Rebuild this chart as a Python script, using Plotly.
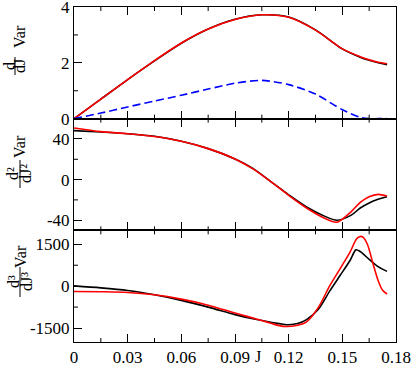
import plotly.graph_objects as go
from plotly.subplots import make_subplots

# panel 1: first derivative
J1 = [0, 0.015, 0.03, 0.045, 0.06, 0.075, 0.09, 0.105, 0.12, 0.135, 0.15, 0.16, 0.165, 0.17, 0.175]
d1_black = [0, 0.70, 1.40, 2.07, 2.70, 3.21, 3.56, 3.72, 3.64, 3.18, 2.50, 2.20, 2.09, 2.00, 1.93]
d1_red = [0, 0.70, 1.40, 2.08, 2.71, 3.21, 3.55, 3.72, 3.63, 3.17, 2.50, 2.22, 2.11, 2.02, 1.97]
d1_blue = [0, 0.20, 0.42, 0.63, 0.84, 1.06, 1.27, 1.37, 1.22, 0.88, 0.32, 0.05, 0.0, 0.0, 0.0]

# panel 2: second derivative
J2 = [0, 0.015, 0.03, 0.045, 0.06, 0.075, 0.09, 0.1, 0.11, 0.12, 0.13, 0.14, 0.147,
      0.155, 0.16, 0.165, 0.17, 0.175]
d2_black = [48.2, 46.9, 45.2, 42.6, 37.7, 30.5, 20.3, 11, -2, -15, -27, -36, -40,
            -35, -28, -23, -19.5, -17]
d2_red = [50.8, 47.2, 45.2, 42.4, 37.7, 30.5, 20.3, 10.5, -2, -15.5, -28, -38, -42,
          -31.5, -22.5, -17, -14.6, -16.2]

# panel 3: third derivative
J3b = [0, 0.015, 0.03, 0.045, 0.06, 0.075, 0.09, 0.1, 0.11, 0.12, 0.125, 0.13, 0.1366,
       0.143, 0.1487, 0.1543, 0.1576, 0.16, 0.165, 0.17, 0.175]
d3_black = [10, -60, -155, -310, -510, -750, -1020, -1170, -1290, -1380, -1340, -1200, -830,
            -170, 380, 920, 1300, 1240, 960, 700, 530]
J3r = [0, 0.015, 0.03, 0.045, 0.06, 0.075, 0.09, 0.1, 0.11, 0.117, 0.125, 0.13, 0.1366,
       0.143, 0.1487, 0.1543, 0.158, 0.16, 0.1615, 0.164, 0.1673, 0.17, 0.1725, 0.175]
d3_red = [-190, -200, -225, -310, -465, -680, -965, -1140, -1330, -1440, -1400, -1280, -760,
          20, 620, 1220, 1700, 1780, 1760, 1500, 770, 200, -150, -280]

x_ticks = [0, 0.03, 0.06, 0.09, 0.12, 0.15, 0.18]
x_labels = ["0", "0.03", "0.06", "0.09", "0.12", "0.15", "0.18"]
x_minor = [0.015, 0.045, 0.075, 0.105, 0.135, 0.165]
y1_ticks, y1_labels, y1_minor = [0, 2, 4], ["0", "2", "4"], [1, 3]
y2_ticks, y2_labels, y2_minor = [-40, 0, 40], ["-40", "0", "40"], [-20, 20]
y3_ticks, y3_labels, y3_minor = [-1500, 0, 1500], ["-1500", "0", "1500"], [-750, 750]

W, H = 415, 368
L, R, T, B = 74, 19, 7, 26
FONT = "Times New Roman"
PW, PH = W - L - R, (H - T - B) / 3


def px(x):
    return (x - L) / PW


def py(y):
    return 1 - (y - T) / (H - T - B)


fig = make_subplots(rows=3, cols=1, shared_xaxes=True, vertical_spacing=0)

line_kw = dict(mode="lines", line_shape="spline", showlegend=False, hoverinfo="skip")
fig.add_trace(go.Scatter(x=J1, y=d1_black, line=dict(color="black", width=1.6, smoothing=0.8), **line_kw), 1, 1)
fig.add_trace(go.Scatter(x=J1, y=d1_red, line=dict(color="red", width=1.6, smoothing=0.8), **line_kw), 1, 1)
fig.add_trace(go.Scatter(x=J1, y=d1_blue, line=dict(color="blue", width=1.6, dash="8px,4px", smoothing=0.8), **line_kw), 1, 1)
fig.add_trace(go.Scatter(x=J2, y=d2_black, line=dict(color="black", width=1.6, smoothing=0.8), **line_kw), 2, 1)
fig.add_trace(go.Scatter(x=J2, y=d2_red, line=dict(color="red", width=1.6, smoothing=0.8), **line_kw), 2, 1)
fig.add_trace(go.Scatter(x=J3b, y=d3_black, line=dict(color="black", width=1.6, smoothing=0.8), **line_kw), 3, 1)
fig.add_trace(go.Scatter(x=J3r, y=d3_red, line=dict(color="red", width=1.6, smoothing=0.8), **line_kw), 3, 1)

for r in (1, 2, 3):
    fig.update_xaxes(
        range=[0, 0.18], tickvals=x_ticks, ticktext=x_labels, showticklabels=(r == 3),
        ticks="inside", ticklen=8, tickcolor="black", tickwidth=1,
        showline=True, linecolor="black", linewidth=1, mirror="ticks",
        showgrid=False, zeroline=False, automargin=False, ticklabeloverflow="allow",
        tickfont=dict(family=FONT, size=17, color="black"), row=r, col=1,
    )

yax = [(y1_ticks, y1_labels, [0, 4]), (y2_ticks, y2_labels, [-50, 60]),
       (y3_ticks, y3_labels, [-2000, 2000])]
for r, (tv, tt, rng) in enumerate(yax, start=1):
    fig.update_yaxes(
        range=rng, tickvals=tv, ticktext=tt,
        ticks="inside", ticklen=8, tickcolor="black", tickwidth=1,
        showline=True, linecolor="black", linewidth=1, mirror=True,
        showgrid=False, zeroline=False, automargin=False, ticklabeloverflow="allow",
        tickfont=dict(family=FONT, size=17, color="black"), row=r, col=1,
    )

shapes = []
# minor ticks (short inside marks)
mx = 4 / PW
my = 4 / PH
for r, yminor in enumerate([y1_minor, y2_minor, y3_minor], start=1):
    xr = "x" if r == 1 else f"x{r}"
    yr = "y" if r == 1 else f"y{r}"
    for v in x_minor:
        for y0, y1 in ((0, my), (1 - my, 1)):
            shapes.append(dict(type="line", xref=xr, yref=f"{yr} domain", x0=v, x1=v, y0=y0, y1=y1,
                               line=dict(color="black", width=1)))
    for v in yminor:
        shapes.append(dict(type="line", xref=f"{xr} domain", yref=yr, x0=0, x1=mx, y0=v, y1=v,
                           line=dict(color="black", width=1)))

# y axis titles: d^n / dJ^n Var, drawn as a rotated fraction
labels = [
    ("d", "dJ", 10, 20, 15, 66, 18, 19, 37),
    ("d²", "dJ²", 13, 26, 20, 174, 28, 20, 146),
    ("d³", "dJ³", 13, 26, 20, 282, 30, 20, 256),
]
annotations = []
for num, den, xn, xd, xbar, yc, blen, xv, yv in labels:
    for txt, xx in ((num, xn), (den, xd)):
        annotations.append(dict(text=txt, x=px(xx), y=py(yc), xref="paper", yref="paper",
                                textangle=-90, showarrow=False, xanchor="center", yanchor="middle",
                                font=dict(family=FONT, size=16, color="black")))
    shapes.append(dict(type="line", xref="paper", yref="paper", x0=px(xbar), x1=px(xbar),
                       y0=py(yc - blen / 2), y1=py(yc + blen / 2), line=dict(color="black", width=1)))
    annotations.append(dict(text="Var", x=px(xv), y=py(yv), xref="paper", yref="paper",
                            textangle=-90, showarrow=False, xanchor="center", yanchor="middle",
                            font=dict(family=FONT, size=16, color="black")))

annotations.append(dict(text="J", x=px(258), y=py(356), xref="paper", yref="paper",
                        showarrow=False, xanchor="center", yanchor="middle",
                        font=dict(family=FONT, size=16, color="black")))

fig.update_layout(
    width=W, height=H, margin=dict(l=L, r=R, t=T, b=B, autoexpand=False),
    paper_bgcolor="white", plot_bgcolor="white",
    font=dict(family=FONT, size=17, color="black"),
    annotations=annotations, shapes=shapes,
)

fig.write_html(
    "out.html",
    config={"responsive": False, "displayModeBar": False, "staticPlot": True},
    post_script="document.body.style.margin='0';document.body.style.overflow='hidden';",
)
